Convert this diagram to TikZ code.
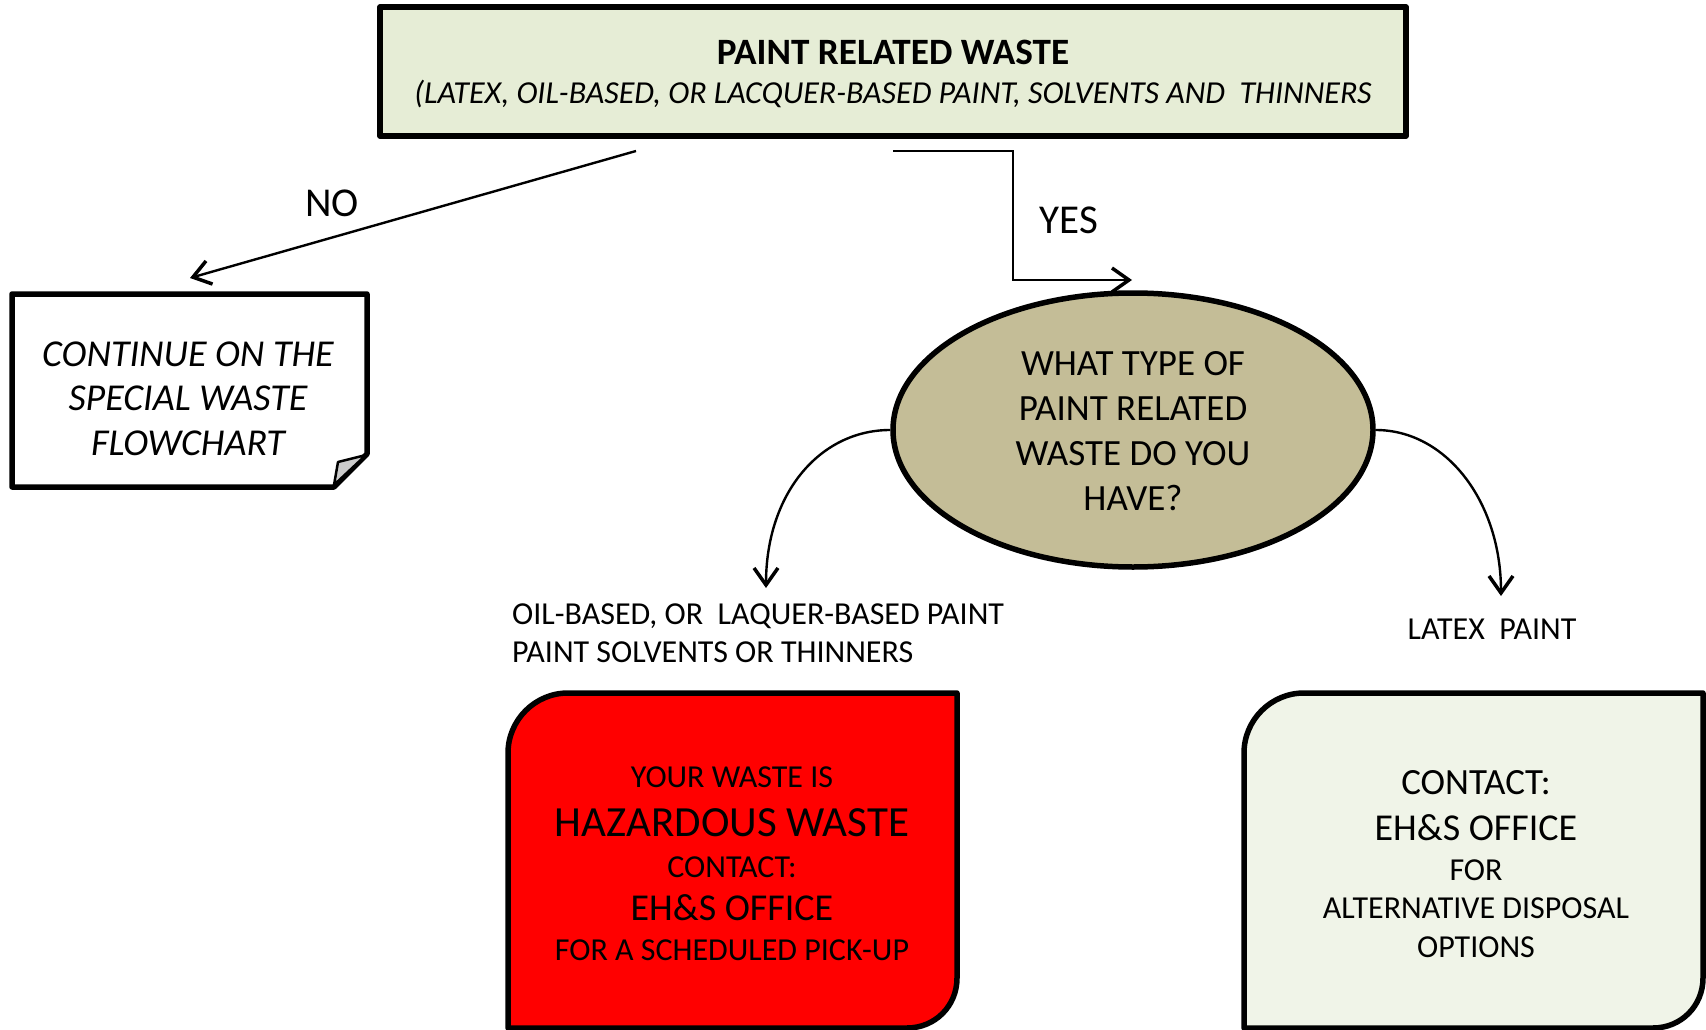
\documentclass[tikz,border=0pt]{standalone}
\usepackage{fontspec}
\setmainfont{Carlito}
\usetikzlibrary{arrows.meta,shapes.geometric}
\definecolor{topfill}{RGB}{230,237,214}
\definecolor{rightfill}{RGB}{240,244,232}
\definecolor{tanfill}{RGB}{196,189,151}
\definecolor{hazred}{RGB}{255,0,0}
\newcommand{\fs}[2]{\fontsize{#1}{#2}\selectfont}
\begin{document}
\begin{tikzpicture}[x=1pt,y=-1pt,
  box/.style={draw=black, line width=5.5pt, line join=round},
  conn/.style={draw=black, line width=2.4pt, -{Straight Barb[length=17pt,width=24pt,line width=3.5pt]}},
  txt/.style={inner sep=0pt, align=center},
]
\useasboundingbox (0,0) rectangle (1706,1030);

% top box
\node[box, fill=topfill, minimum width=1026pt, minimum height=129pt, inner sep=0pt] (top) at (893,71.5) {};
\node[txt, font=\fs{37.2}{40}\bfseries] (title) at (893,52) {PAINT RELATED WASTE};
\node[txt, font=\fs{32}{36}\itshape] (subtitle) at (893,94) {(LATEX, OIL-BASED, OR LACQUER-BASED PAINT, SOLVENTS AND\ \ THINNERS};

% left box with folded corner
\draw[box, fill=white] (12,294) -- (367,294) -- (367,454) -- (334,487) -- (12,487) -- cycle;
\draw[black, line width=2.5pt, line join=round, fill=gray!40] (366,455) -- (338,462) -- (334,485) -- cycle;
\node[txt, font=\fs{38}{44.5}\itshape] (cont) at (188,398.5)
  {CONTINUE ON THE\\SPECIAL WASTE\\FLOWCHART};

% ellipse
\node[ellipse, box, fill=tanfill, minimum width=480pt, minimum height=274pt, inner sep=0pt] (q) at (1133,430) {};
\node[txt, font=\fs{37}{45}] (qtext) at (1133,431.5)
  {WHAT TYPE OF\\PAINT RELATED\\WASTE DO YOU\\HAVE?};

% connectors
\coordinate (noA) at (636,151);
\coordinate (noB) at (190,278);
\coordinate (yesA) at (893,151);
\coordinate (yesB) at (1013,151);
\coordinate (yesC) at (1013,280);
\coordinate (yesD) at (1132,280);
\coordinate (oilTip) at (766,588);
\coordinate (latTip) at (1501,596);

\draw[conn] (noA) -- (noB);
\draw[conn] (yesA) -- (yesB) -- (yesC) -- (yesD);
\draw[conn] (q.west) .. controls +(-70,0) and +(0,-95) .. (oilTip);
\draw[conn] (q.east) .. controls +(70,0) and +(0,-95) .. (latTip);

\node[txt, font=\fs{41}{45}] (no) at (332,203) {NO};
\node[txt, font=\fs{41}{45}] (yes) at (1069,220) {YES};

\node[txt, font=\fs{32}{38}, anchor=west, align=left] (oil) at (512,633)
  {OIL-BASED, OR\ \ LAQUER-BASED PAINT\\PAINT SOLVENTS OR THINNERS};
\node[txt, font=\fs{32}{36}] (latex) at (1492,629) {LATEX\ \ PAINT};

% red box
\draw[box, fill=hazred] (508,1028) -- (508,753) .. controls (508,720) and (535,693) .. (568,693)
  -- (957,693) -- (957,978) .. controls (957,1006) and (935,1028) .. (907,1028) -- cycle;
\node[txt, font=\fs{32}{36}] (r1) at (732,777) {YOUR WASTE IS};
\node[txt, font=\fs{43}{48}] (r2) at (732,823) {HAZARDOUS WASTE};
\node[txt, font=\fs{32}{36}] (r3) at (732,867) {CONTACT:};
\node[txt, font=\fs{38}{42}] (r4) at (732,908) {EH\&S OFFICE};
\node[txt, font=\fs{32}{36}] (r5) at (732,950) {FOR A SCHEDULED PICK-UP};

% right box
\draw[box, fill=rightfill] (1244,1028) -- (1244,753) .. controls (1244,720) and (1271,693) .. (1304,693)
  -- (1703,693) -- (1703,978) .. controls (1703,1006) and (1681,1028) .. (1653,1028) -- cycle;
\node[txt, font=\fs{37}{40}] (g1) at (1476,783) {CONTACT:};
\node[txt, font=\fs{38}{42}] (g2) at (1476,828) {EH\&S OFFICE};
\node[txt, font=\fs{32}{36}] (g3) at (1476,870) {FOR};
\node[txt, font=\fs{32}{36}] (g4) at (1476,908) {ALTERNATIVE DISPOSAL};
\node[txt, font=\fs{32}{36}] (g5) at (1476,947) {OPTIONS};
\end{tikzpicture}
\end{document}
